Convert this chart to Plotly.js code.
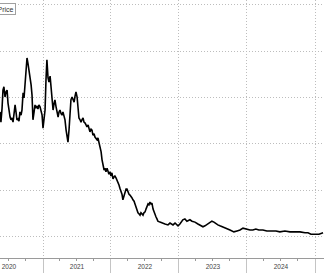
<!DOCTYPE html>
<html>
<head>
<meta charset="utf-8">
<script src="https://cdn.plot.ly/plotly-3.0.1.min.js"></script>
<style>html,body{margin:0;padding:0;background:#fff;}#chart{width:324px;height:273px;}</style>
</head>
<body>
<div id="chart"></div>
<script>
const seriesName = "Price";
const dates = [
"2020-05-15","2020-05-20","2020-05-26","2020-05-31","2020-06-05","2020-06-11","2020-06-16","2020-06-22","2020-06-27","2020-07-02",
"2020-07-08","2020-07-13","2020-07-18","2020-07-24","2020-07-29","2020-08-04","2020-08-09","2020-08-14","2020-08-20","2020-08-25",
"2020-08-30","2020-09-05","2020-09-10","2020-09-16","2020-09-21","2020-09-26","2020-10-02","2020-10-07","2020-10-12","2020-10-18",
"2020-10-23","2020-10-29","2020-11-03","2020-11-08","2020-11-14","2020-11-19","2020-11-24","2020-11-30","2020-12-05","2020-12-10",
"2020-12-16","2020-12-21","2020-12-27",
"2021-01-01","2021-01-06","2021-01-12","2021-01-17","2021-01-22","2021-01-28","2021-02-02","2021-02-08","2021-02-13","2021-02-18",
"2021-02-24","2021-03-01","2021-03-06","2021-03-12","2021-03-17","2021-03-23","2021-03-28","2021-04-02","2021-04-08","2021-04-13",
"2021-04-18","2021-04-24","2021-04-29","2021-05-05","2021-05-10","2021-05-15","2021-05-21","2021-05-26","2021-05-31","2021-06-06",
"2021-06-11","2021-06-17","2021-06-22","2021-06-27","2021-07-03","2021-07-08","2021-07-13","2021-07-19","2021-07-24","2021-07-29",
"2021-08-04","2021-08-09","2021-08-15","2021-08-20","2021-08-25","2021-08-31","2021-09-05","2021-09-10","2021-09-16","2021-09-21",
"2021-09-26","2021-10-02","2021-10-07","2021-10-13","2021-10-18","2021-10-23","2021-10-29","2021-11-03","2021-11-09","2021-11-14",
"2021-11-19","2021-11-25","2021-11-30","2021-12-05","2021-12-11","2021-12-16","2021-12-21","2021-12-27",
"2022-01-01","2022-01-06","2022-01-12","2022-01-17","2022-01-22","2022-01-28","2022-02-02","2022-02-08","2022-02-13","2022-02-18",
"2022-02-24","2022-03-01","2022-03-06","2022-03-12","2022-03-17","2022-03-23","2022-03-28","2022-04-02","2022-04-08","2022-04-13",
"2022-04-18","2022-04-24","2022-04-29","2022-05-05","2022-05-10","2022-05-15","2022-05-21","2022-05-26","2022-05-31","2022-06-06",
"2022-06-11","2022-06-17","2022-06-22","2022-06-27","2022-07-03","2022-07-08","2022-07-13","2022-07-19","2022-07-24","2022-07-29",
"2022-08-04","2022-08-09","2022-08-15","2022-08-20","2022-08-25","2022-08-31","2022-09-05","2022-09-10","2022-09-21","2022-10-02",
"2022-10-18","2022-11-03","2022-11-14","2022-11-30","2022-12-11","2022-12-27",
"2023-01-06","2023-01-22","2023-02-02","2023-02-13","2023-03-01","2023-03-12","2023-03-28","2023-04-13","2023-04-24","2023-05-10",
"2023-05-21","2023-06-06","2023-06-17","2023-06-27","2023-07-08","2023-07-19","2023-07-29","2023-08-09","2023-08-25","2023-09-10",
"2023-10-02","2023-10-23","2023-11-09","2023-11-25","2023-12-11","2023-12-27",
"2024-01-17","2024-02-02","2024-02-18","2024-03-05","2024-03-27","2024-04-17","2024-05-14","2024-06-05","2024-06-26","2024-07-23",
"2024-08-19","2024-09-15","2024-10-12","2024-11-08","2024-11-24","2024-12-10",
"2025-01-01","2025-01-22","2025-02-13"
];
const prices = [
26.9,24.7,27.7,31.6,32.3,30.1,31.2,31.6,28.8,26.9,
25.8,25.2,25.6,24.7,26.7,28.4,26.9,25.2,25.4,24.9,
26.9,26.2,27.3,31.0,29.9,32.3,35.9,38.5,37.4,35.9,
34.8,32.7,30.5,25.2,26.9,28.4,27.7,28.2,27.5,28.4,
28.0,27.3,26.2,
23.4,25.2,27.3,33.8,38.1,34.2,33.3,34.6,32.7,30.1,
27.3,28.6,29.5,28.0,26.9,25.8,26.9,27.3,26.5,26.2,
26.9,26.0,25.2,23.0,21.3,20.4,23.2,27.3,29.5,30.1,
29.5,29.0,30.3,31.2,30.1,28.0,25.6,25.2,24.7,25.2,
25.6,24.7,24.5,24.1,23.7,24.1,23.2,22.6,23.2,23.0,
21.9,22.2,21.5,21.1,20.9,21.3,20.4,19.6,18.3,16.6,
15.3,14.4,14.8,14.0,14.8,13.8,13.5,14.0,
13.1,13.8,12.5,12.9,13.1,12.7,12.3,11.8,11.2,10.5,
9.9,9.2,8.0,8.8,9.9,10.3,10.3,9.7,9.2,9.0,
8.8,8.4,8.0,7.7,7.1,6.5,5.6,5.2,5.0,4.7,
5.2,4.9,4.7,5.2,5.4,6.0,6.7,7.1,6.9,7.5,
7.1,7.3,6.0,5.4,4.7,4.3,3.9,3.4,3.2,3.0,
2.8,2.6,3.0,2.6,3.0,2.4,
2.8,3.7,3.9,3.4,3.7,3.4,3.2,2.8,2.6,2.2,
2.4,2.8,3.2,3.4,3.2,2.8,2.6,2.4,2.2,1.9,
1.5,1.1,1.3,1.5,1.9,1.7,
1.5,1.5,1.7,1.5,1.5,1.3,1.3,1.3,1.1,1.3,
1.1,1.1,1.1,0.9,0.9,0.6,
0.6,0.6,0.9
];
const xRange = ["2020-05-15", "2025-02-18"];
const yRange = [-4.52, 50.97];

const FONT = "Liberation Sans, Arial, sans-serif";
const trace = {
  x: dates, y: prices, type: "scatter", mode: "lines", name: seriesName,
  line: {color: "#000000", width: 1.6, shape: "linear"}, showlegend: false
};
// invisible helper on overlay axis that carries the long year-boundary ticks
const helper = {
  x: [dates[0], dates[dates.length-1]], y: [prices[0], prices[prices.length-1]],
  xaxis: "x2", type: "scatter", mode: "lines", line: {width: 0, color: "rgba(0,0,0,0)"},
  showlegend: false, hoverinfo: "skip"
};
const layout = {
  width: 324, height: 273,
  margin: {l: 0, r: 0, t: 0, b: 15, pad: 0, autoexpand: false},
  paper_bgcolor: "#ffffff", plot_bgcolor: "#ffffff",
  showlegend: false,
  annotations: [{
    text: seriesName, xref: "paper", yref: "paper",
    x: 16/324, xanchor: "right", y: 1 - 3/258, yanchor: "top",
    showarrow: false, align: "left",
    font: {family: FONT, size: 7, color: "#333333"},
    bgcolor: "#ffffff", bordercolor: "#a0a0a0", borderwidth: 1, borderpad: 1.5
  }],
  xaxis: {
    type: "date", range: xRange, autorange: false,
    tick0: "2020-01-01", dtick: "M12", tickformat: "%Y", ticklabelmode: "period",
    ticks: "outside", ticklen: 2, tickcolor: "#9a9a9a", tickwidth: 1,
    showline: true, linecolor: "#9a9a9a", linewidth: 1,
    showgrid: true, gridcolor: "#bdbdbd", griddash: "1px,2px", gridwidth: 1,
    zeroline: false,
    tickfont: {family: FONT, size: 6.5, color: "#444444"},
    minor: {dtick: "M3", tick0: "2020-01-01", ticks: "outside", ticklen: 2, tickcolor: "#9a9a9a", showgrid: false}
  },
  xaxis2: {
    type: "date", overlaying: "x", anchor: "y", side: "bottom",
    range: xRange, autorange: false,
    tick0: "2020-01-01", dtick: "M12",
    ticks: "outside", ticklen: 15, tickcolor: "#c4c4c4", tickwidth: 1,
    showticklabels: false, showgrid: false, showline: false, zeroline: false
  },
  yaxis: {
    range: yRange, autorange: false, dtick: 10, tick0: 0,
    showticklabels: false, ticks: "", showline: false, zeroline: false,
    showgrid: true, gridcolor: "#bdbdbd", griddash: "1px,2px", gridwidth: 1
  }
};
Plotly.newPlot("chart", [trace, helper], layout, {staticPlot: true, displayModeBar: false});
</script>
</body>
</html>
